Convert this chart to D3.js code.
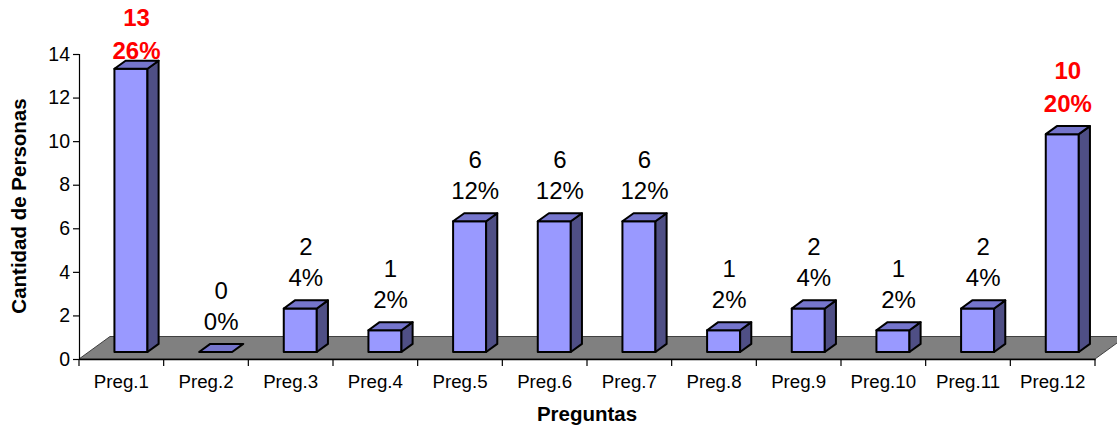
<!DOCTYPE html>
<html>
<head>
<meta charset="utf-8">
<script src="https://cdn.jsdelivr.net/npm/d3@7/dist/d3.min.js"></script>
<style>
  html, body { margin: 0; padding: 0; background: #fff; }
  svg { display: block; font-family: "Liberation Sans", Arial, sans-serif; }
</style>
</head>
<body>
<svg id="chart" width="1117" height="429"></svg>
<script>
const categories = ["Preg.1","Preg.2","Preg.3","Preg.4","Preg.5","Preg.6","Preg.7","Preg.8","Preg.9","Preg.10","Preg.11","Preg.12"];
const values = [13, 0, 2, 1, 6, 6, 6, 1, 2, 1, 2, 10];
const total = 50;
const highlighted = ["Preg.1", "Preg.12"];
const yTicks = [0, 2, 4, 6, 8, 10, 12, 14];
const yTitle = "Cantidad de Personas";
const xTitle = "Preguntas";

(function () {
const svg = d3.select("#chart");
const pL = 79, pR = 1095, pT = 54, pB = 359;

const x = d3.scaleBand().domain(categories).range([pL, pR]).padding(0);
const y = d3.scaleLinear().domain([0, 14]).range([pB, pT]);

// depth vector of floor
const DX = 31, DY = -22.5;
const f0 = 0.31, f1 = 0.67; // bar depth fractions
const bw = x.bandwidth() * 0.39;

// floor
svg.append("path")
  .attr("d", `M${pL},${pB} L${pR},${pB} L${pR + DX},${pB + DY} L${pL + DX},${pB + DY} Z`)
  .attr("fill", "#808080")
  .attr("stroke", "#404040")
  .attr("stroke-width", 1);

// y axis
const yAxis = svg.append("g")
  .attr("transform", `translate(${pL},0)`)
  .call(d3.axisLeft(y).tickValues(yTicks).tickSize(6).tickPadding(3).tickFormat(d3.format("d")));
yAxis.select(".domain").attr("stroke", "#000").attr("stroke-width", 1.2);
yAxis.selectAll(".tick line").attr("stroke", "#000").attr("stroke-width", 1.2);
yAxis.selectAll(".tick text").attr("font-size", 19.5).attr("fill", "#000").attr("font-family", "Liberation Sans, Arial, sans-serif");

// x axis
const xAxis = svg.append("g")
  .attr("transform", `translate(0,${pB})`)
  .call(d3.axisBottom(x).tickSize(0).tickPadding(16));
xAxis.select(".domain").attr("stroke", "#000").attr("stroke-width", 1.5);
xAxis.selectAll(".tick text").attr("font-size", 18.7).attr("fill", "#000").attr("font-family", "Liberation Sans, Arial, sans-serif");
const bounds = categories.map(c => x(c)).concat([x(categories[categories.length - 1]) + x.bandwidth()]);
svg.append("g").selectAll("line").data(bounds).join("line")
  .attr("x1", d => d).attr("x2", d => d)
  .attr("y1", pB).attr("y2", pB + 7)
  .attr("stroke", "#000").attr("stroke-width", 1.2);

// bars
const data = categories.map((c, i) => ({ c, v: values[i] }));
const barG = svg.append("g");
data.forEach(d => {
  const cx = x(d.c) + x.bandwidth() / 2;
  const fx0 = cx + DX * f0 - bw / 2, fx1 = fx0 + bw;
  const fyB = y(0) + DY * f0;
  const fyT = y(d.v) + DY * f0;
  const ddx = DX * (f1 - f0), ddy = DY * (f1 - f0);
  const g = barG.append("g")
    .attr("stroke", "#000").attr("stroke-width", 2).attr("stroke-linejoin", "round");
  if (d.v > 0) {
    g.append("path").attr("d", `M${fx0},${fyB} L${fx1},${fyB} L${fx1},${fyT} L${fx0},${fyT} Z`).attr("fill", "#9999FF");
    g.append("path").attr("d", `M${fx1},${fyB} L${fx1 + ddx},${fyB + ddy} L${fx1 + ddx},${fyT + ddy} L${fx1},${fyT} Z`).attr("fill", "#4F4F85");
  }
  g.append("path").attr("d", `M${fx0},${fyT} L${fx1},${fyT} L${fx1 + ddx},${fyT + ddy} L${fx0 + ddx},${fyT + ddy} Z`).attr("fill", "#7575CC");
});

// labels
const labG = svg.append("g");
data.forEach(d => {
  const cx = x(d.c) + x.bandwidth() / 2 + DX * (f0 + f1) / 2;
  const fyT = y(d.v) + DY * f0;
  const hi = highlighted.includes(d.c);
  const gap = hi ? 33 : 31.5;
  const pctBase = Math.max(fyT - 22, 59);
  const t = labG.append("text")
    .attr("text-anchor", "middle")
    .attr("font-size", 24)
    .attr("font-weight", hi ? "bold" : "normal")
    .attr("fill", hi ? "#FF0000" : "#000");
  t.append("tspan").attr("x", cx).attr("y", pctBase - gap).text(d.v);
  t.append("tspan").attr("x", cx).attr("y", pctBase).text(Math.round(d.v / total * 100) + "%");
});

// titles
svg.append("text")
  .attr("transform", `translate(26,206) rotate(-90)`)
  .attr("text-anchor", "middle")
  .attr("font-size", 20.5)
  .attr("font-weight", "bold")
  .text(yTitle);
svg.append("text")
  .attr("x", 587)
  .attr("y", 421)
  .attr("text-anchor", "middle")
  .attr("font-size", 20.5)
  .attr("font-weight", "bold")
  .text(xTitle);
})();
</script>
</body>
</html>
